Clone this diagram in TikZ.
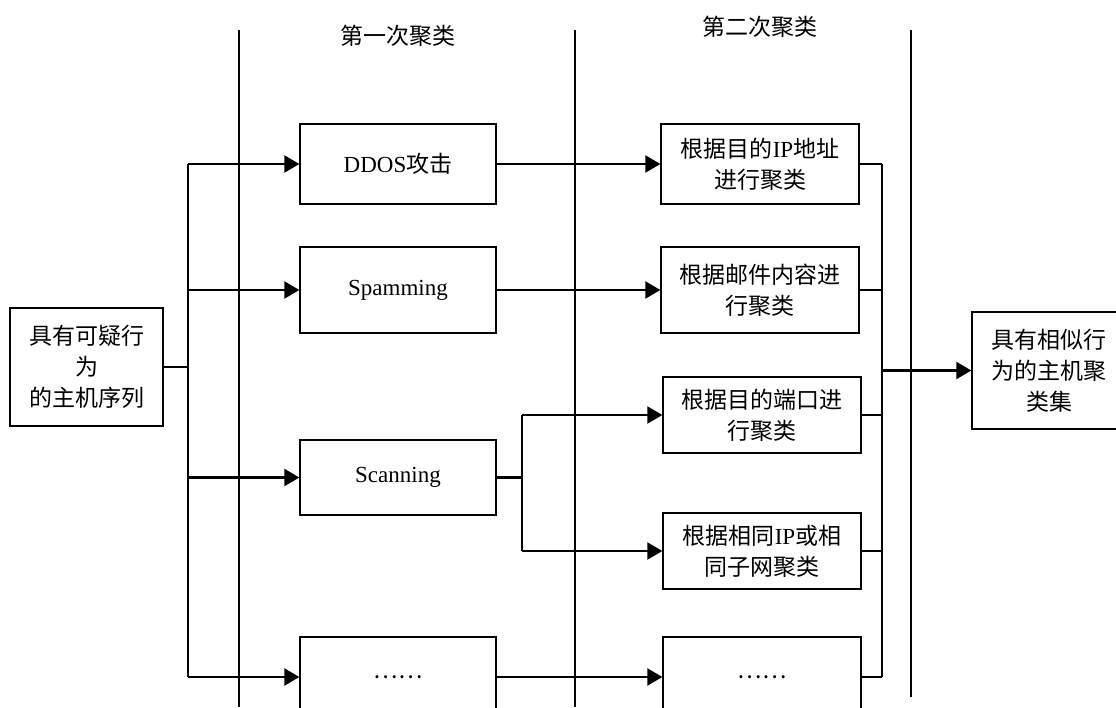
\documentclass[tikz,border=0pt]{standalone}
\usepackage{fontspec}
\setmainfont{Liberation Serif}
\newfontfamily\cjk{Noto Sans CJK SC}
\usetikzlibrary{arrows.meta}
\tikzset{
  box/.style={draw, line width=1.3pt, inner sep=0pt, align=center,
    font=\fontsize{23}{31}\selectfont},
  col1/.style={box, minimum width=196pt},
  col2/.style={box, minimum width=198pt},
  conn/.style={line width=2.2pt},
  arr/.style={conn, -{Triangle[length=15pt,width=17pt]}},
  divider/.style={line width=2pt},
  header/.style={font=\fontsize{23}{31}\selectfont\cjk}
}
\begin{document}
\begin{tikzpicture}[x=1pt,y=-1pt]
\useasboundingbox (0,0) rectangle (1116,707);
\clip (0,0) rectangle (1116,707);
% dividers
\coordinate (d1t) at (239,30); \coordinate (d1b) at (239,707);
\coordinate (d2t) at (575,30); \coordinate (d2b) at (575,707);
\coordinate (d3t) at (911,30); \coordinate (d3b) at (911,697);
\draw[divider] (d1t) -- (d1b);
\draw[divider] (d2t) -- (d2b);
\draw[divider] (d3t) -- (d3b);
% headers
\node[header] (h1) at (398,36) {第一次聚类};
\node[header] (h2) at (760,27) {第二次聚类};
% left box
\node[box, minimum width=153pt, minimum height=118pt] (src) at (86.5,367)
  {{\cjk 具有可疑行}\\{\cjk 为}\\{\cjk 的主机序列}};
% column 1
\node[col1, minimum height=80pt] (ddos) at (398,164) {DDOS{\cjk 攻击}};
\node[col1, minimum height=86pt] (spam) at (398,290) {Spamming};
\node[col1, minimum height=75pt] (scan) at (398,477.5) {Scanning};
\node[col1, minimum height=80pt] (dots1) at (398,677) {\cjk ……};
% column 2
\node[col2, minimum height=80pt] (c2a) at (760,164) {{\cjk 根据目的}IP{\cjk 地址}\\{\cjk 进行聚类}};
\node[col2, minimum height=86pt] (c2b) at (760,290) {{\cjk 根据邮件内容进}\\{\cjk 行聚类}};
\node[col2, minimum height=76pt] (c2c) at (762,415) {{\cjk 根据目的端口进}\\{\cjk 行聚类}};
\node[col2, minimum height=76pt] (c2d) at (762,551) {{\cjk 根据相同}IP{\cjk 或相}\\{\cjk 同子网聚类}};
\node[col2, minimum height=80pt] (c2e) at (762,677) {\cjk ……};
% result
\node[box, minimum width=154pt, minimum height=117pt] (res) at (1049,370.5)
  {{\cjk 具有相似行}\\{\cjk 为的主机聚}\\{\cjk 类集}};
% left bus
\coordinate (lbT) at (188,164);
\coordinate (lbB) at (188,677);
\draw[conn] (src.east) -- (lbT |- src.east);
\draw[conn] (lbT) -- (lbB);
\draw[arr] (lbT |- ddos) -- (ddos.west);
\draw[arr] (lbT |- spam) -- (spam.west);
\draw[arr] (lbT |- scan) -- (scan.west);
\draw[arr] (lbT |- dots1) -- (dots1.west);
% column 1 -> column 2
\draw[arr] (ddos.east) -- (c2a.west);
\draw[arr] (spam.east) -- (c2b.west);
\draw[arr] (dots1.east) -- (c2e.west);
\coordinate (fk) at (522,477.5);
\draw[conn] (scan.east) -- (fk);
\draw[conn] (fk |- c2c) -- (fk |- c2d);
\draw[arr] (fk |- c2c) -- (c2c.west);
\draw[arr] (fk |- c2d) -- (c2d.west);
% right bus
\coordinate (rbT) at (882,164);
\coordinate (rbB) at (882,677);
\draw[conn] (rbT) -- (rbB);
\draw[conn] (c2a.east) -- (rbT |- c2a.east);
\draw[conn] (c2b.east) -- (rbT |- c2b.east);
\draw[conn] (c2c.east) -- (rbT |- c2c.east);
\draw[conn] (c2d.east) -- (rbT |- c2d.east);
\draw[conn] (c2e.east) -- (rbT |- c2e.east);
\draw[arr] (rbT |- res.west) -- (res.west);
\end{tikzpicture}
\end{document}
